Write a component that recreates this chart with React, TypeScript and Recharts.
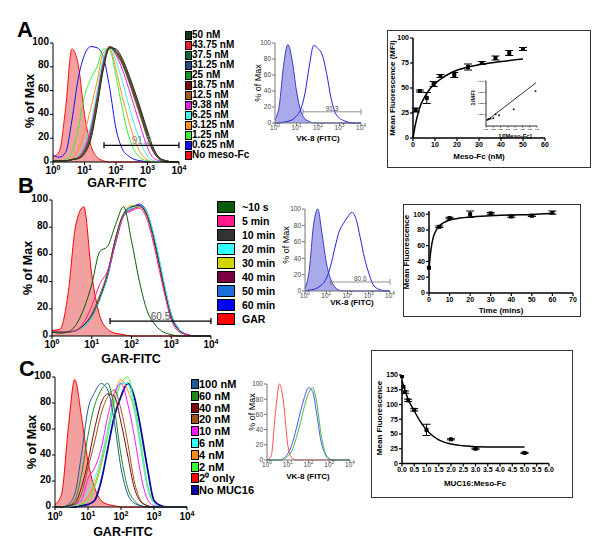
import React from "react";
import {
  ComposedChart, Line, Area, Scatter, ErrorBar, XAxis, YAxis, ReferenceLine,
} from "recharts";

const FONT = "'Liberation Sans', Arial, sans-serif";

// log10 fluorescence grid shared by the histograms
const LOG_X = [0, 0.2, 0.4, 0.6, 0.8, 1, 1.2, 1.4, 1.6, 1.8, 2, 2.2, 2.4, 2.6, 2.8, 3, 3.2, 3.4, 3.6, 3.8, 4];
const DECADES = [0, 1, 2, 3, 4];
const PCT_TICKS = [0, 20, 40, 60, 80, 100];

// ---- panel A: Meso-Fc titration ----
const A_LABELS = ["50 nM", "43.75 nM", "37.5 nM", "31.25 nM", "25 nM", "18.75 nM", "12.5 nM", "9.38 nM", "6.25 nM", "3.125 nM", "1.25 nM", "0.625 nM", "No meso-Fc"];
const A_COLORS = ["#0b3b1c", "#ee1c24", "#0e6b35", "#1f4e8c", "#1b8f2a", "#7b0f0f", "#a45a12", "#e51ee5", "#3ef0f0", "#ff8f1c", "#38f038", "#1010ff", "#ff1010"];
const A_VALUES = [
  [1, 1, 1, 2, 3, 7, 19, 46, 78, 96, 95, 87, 74, 59, 43, 26, 11, 3, 1, 0, 0],
  [1, 1, 1, 2, 3, 8, 20, 48, 79, 97, 94, 86, 73, 58, 42, 25, 10, 3, 1, 0, 0],
  [1, 1, 1, 2, 3, 8, 21, 49, 80, 97, 93, 85, 72, 57, 41, 24, 10, 3, 1, 0, 0],
  [1, 1, 1, 2, 3, 8, 22, 50, 80, 96, 93, 85, 71, 56, 40, 23, 9, 3, 1, 0, 0],
  [1, 1, 1, 2, 3, 9, 23, 51, 81, 97, 92, 84, 70, 55, 39, 22, 9, 2, 0, 0, 0],
  [1, 1, 1, 2, 3, 9, 24, 52, 82, 96, 92, 83, 69, 54, 38, 21, 8, 2, 0, 0, 0],
  [1, 1, 1, 2, 4, 10, 25, 53, 83, 97, 91, 82, 68, 52, 36, 20, 8, 2, 0, 0, 0],
  [1, 1, 1, 2, 4, 12, 28, 55, 84, 97, 90, 78, 62, 45, 28, 12, 3, 1, 0, 0, 0],
  [1, 1, 1, 2, 5, 15, 32, 60, 88, 97, 85, 68, 48, 30, 15, 5, 1, 0, 0, 0, 0],
  [1, 1, 1, 3, 10, 25, 45, 68, 92, 95, 78, 55, 35, 18, 7, 2, 0, 0, 0, 0, 0],
  [2, 1, 2, 8, 28, 55, 70, 80, 95, 94, 72, 45, 22, 9, 3, 1, 0, 0, 0, 0, 0],
  [6, 4, 8, 35, 70, 90, 97, 96, 88, 62, 28, 11, 5, 2, 1, 0, 0, 0, 0, 0, 0],
  [4, 9, 45, 95, 82, 40, 14, 4, 1, 0, 0, 0, 0, 0, 0, 0, 0, 0, 0, 0, 0],
];
const A_VK8_ISO = [4, 22, 72, 98, 78, 40, 15, 5, 2, 0, 0, 0, 0, 0, 0, 0, 0, 0, 0, 0, 0];
const A_VK8 = [0, 0, 1, 2, 4, 9, 17, 38, 72, 97, 93, 85, 62, 32, 13, 6, 3, 1, 0, 0, 0];

const A_CONC = [1.25, 3.125, 6.25, 9.38, 12.5, 18.75, 25, 31.25, 37.5, 43.75, 50];
const A_MFI = [28, 47, 40, 54, 62, 63, 71, 75, 80, 85, 89];
const A_SEM = [2, 1, 5.5, 2.5, 1.5, 2.5, 3, 1.5, 2, 2.5, 1.5];
const A_FIT_X = [0, 1, 2, 3, 5, 8, 12, 18, 25, 35, 50];
const A_FIT_Y = [0, 12.5, 22, 30, 40, 50, 58, 66, 71, 75, 79];
const A_INV_X = [0.05, 0.08, 0.1, 0.16, 0.25, 0.33, 0.45, 0.95, 1.7];
const A_INV_Y = [0.0055, 0.006, 0.0062, 0.0066, 0.007, 0.0104, 0.0095, 0.0148, 0.031];
const A_INV_FIT_X = [0.05, 1.72];
const A_INV_FIT_Y = [0.0053, 0.0385];

// ---- panel B: time course ----
const B_LABELS = ["~10 s", "5 min", "10 min", "20 min", "30 min", "40 min", "50 min", "60 min", "GAR"];
const B_COLORS = ["#0a5a0a", "#ff1a8c", "#333333", "#33ffff", "#d4d400", "#7a0040", "#1a6fd8", "#0000ff", "#ff0000"];
const B_VALUES = [
  [3, 2, 3, 8, 20, 38, 62, 66, 82, 95, 70, 40, 18, 8, 3, 1, 0, 0, 0, 0, 0],
  [3, 3, 3, 4, 10, 22, 38, 48, 68, 88, 92, 94, 85, 62, 35, 12, 3, 1, 0, 0, 0],
  [3, 3, 3, 4, 8, 15, 28, 46, 72, 90, 95, 96, 88, 66, 38, 14, 4, 1, 0, 0, 0],
  [3, 3, 3, 4, 7, 14, 27, 45, 70, 88, 94, 96, 90, 70, 42, 16, 5, 1, 0, 0, 0],
  [3, 3, 3, 4, 7, 15, 29, 47, 71, 90, 96, 94, 87, 65, 37, 13, 4, 1, 0, 0, 0],
  [3, 3, 3, 4, 8, 16, 30, 47, 72, 89, 93, 95, 88, 66, 39, 14, 4, 1, 0, 0, 0],
  [3, 3, 3, 4, 7, 14, 28, 46, 70, 89, 95, 96, 89, 68, 40, 15, 5, 1, 0, 0, 0],
  [3, 3, 3, 4, 7, 14, 27, 44, 69, 88, 94, 97, 90, 69, 41, 16, 5, 1, 0, 0, 0],
  [4, 5, 30, 82, 95, 45, 15, 5, 2, 1, 0, 0, 0, 0, 0, 0, 0, 0, 0, 0, 0],
];
const B_VK8_ISO = [3, 25, 80, 100, 70, 35, 15, 5, 1, 0, 0, 0, 0, 0, 0, 0, 0, 0, 0, 0, 0];
const B_VK8 = [0, 1, 2, 4, 8, 15, 30, 52, 72, 82, 90, 96, 88, 65, 40, 22, 8, 3, 1, 0, 0];

const B_TIME = [0, 5, 10, 20, 30, 40, 50, 60];
const B_MFI = [32, 84, 95, 100, 101, 97, 98, 102];
const B_SEM = [0, 1, 1, 4, 1, 1, 1, 2];
const B_FIT_X = [0, 0.5, 1, 2, 3, 5, 7, 10, 15, 20, 30, 40, 50, 60];
const B_FIT_Y = [30, 45, 56, 70, 77, 85, 89, 92.5, 95, 96.5, 98, 99, 99.5, 101];

// ---- panel C: MUC16 competition ----
const C_LABELS = ["100 nM", "60 nM", "40 nM", "20 nM", "10 nM", "6 nM", "4 nM", "2 nM", "2⁰ only", "No MUC16"];
const C_COLORS = ["#1f5a9a", "#1e8a1e", "#7a0a0a", "#a0521a", "#ff1aff", "#33ffff", "#ff8c1a", "#33ff33", "#ff0000", "#0a0aa0"];
const C_VALUES = [
  [0, 0, 2, 10, 40, 75, 88, 95, 90, 65, 30, 10, 3, 1, 0, 0, 0, 0, 0, 0, 0],
  [0, 0, 1, 5, 25, 55, 78, 90, 95, 75, 40, 15, 5, 1, 0, 0, 0, 0, 0, 0, 0],
  [0, 0, 1, 3, 15, 35, 60, 80, 87, 85, 65, 40, 15, 4, 1, 0, 0, 0, 0, 0, 0],
  [0, 0, 1, 2, 10, 30, 50, 72, 85, 90, 75, 50, 20, 5, 1, 0, 0, 0, 0, 0, 0],
  [0, 0, 1, 2, 5, 22, 30, 45, 70, 88, 95, 80, 55, 25, 6, 1, 0, 0, 0, 0, 0],
  [0, 0, 0, 1, 4, 12, 22, 38, 60, 82, 95, 95, 75, 45, 15, 3, 0, 0, 0, 0, 0],
  [0, 0, 0, 1, 3, 8, 18, 35, 60, 85, 98, 90, 75, 45, 15, 3, 0, 0, 0, 0, 0],
  [0, 0, 0, 1, 2, 5, 15, 32, 55, 80, 95, 100, 80, 50, 18, 3, 0, 0, 0, 0, 0],
  [2, 10, 60, 98, 70, 35, 15, 5, 2, 1, 0, 0, 0, 0, 0, 0, 0, 0, 0, 0, 0],
  [0, 0, 0, 0, 1, 2, 5, 20, 45, 70, 85, 95, 85, 60, 30, 5, 1, 0, 0, 0, 0],
];
const C_VK8_ISO = [0, 5, 60, 100, 75, 20, 3, 0, 0, 0, 0, 0, 0, 0, 0, 0, 0, 0, 0, 0, 0];
const C_VK8_A = [0, 0, 0, 0, 2, 8, 20, 40, 62, 82, 95, 90, 60, 25, 8, 1, 0, 0, 0, 0, 0];
const C_VK8_B = [0, 0, 0, 0, 1, 5, 12, 28, 48, 70, 88, 95, 75, 35, 10, 2, 0, 0, 0, 0, 0];

const C_RATIO = [0, 0.06, 0.125, 0.25, 0.5, 1, 2, 3, 5];
const C_MFI = [148, 130, 121, 107, 91, 57, 41, 25, 18];
const C_SEM = [0, 0, 2, 2, 2, 9.5, 1, 1, 1];
const C_FIT_X = [0, 0.25, 0.5, 0.75, 1, 1.25, 1.5, 2, 2.5, 3, 4, 5];
const C_FIT_Y = [140, 109, 89, 71, 57, 47, 40, 33, 30, 28.5, 28, 28];

type S = { color: string; values: number[]; fill?: string; w?: number };

function PowTick(props: any) {
  const { x, y, payload, fs, fw, color, off } = props;
  return (
    <text x={x} y={y + off} textAnchor="middle" fontSize={fs} fontWeight={fw} fill={color} fontFamily={FONT}>
      10<tspan dy={-fs * 0.4} fontSize={fs * 0.72}>{payload.value}</tspan>
    </text>
  );
}

function Hist({ plot, series, gate, small }: { plot: number[]; series: S[]; gate?: { from: number; y: number; label: string; color: string; labelColor: string }; small?: boolean }) {
  const [x1, y1, x2, y2] = plot;
  const padL = 30, padB = 22, padT = 9, padR = 12;
  const w = x2 - x1 + padL + padR;
  const h = y2 - y1 + padT + padB;
  const rows = LOG_X.map((x, i) => {
    const r: any = { x };
    series.forEach((s, j) => { r["s" + j] = s.values[i]; });
    return r;
  });
  const cap = 3 / ((y2 - y1) / 100);
  const fs = small ? 6.5 : 10;
  const fw = small ? 400 : 700;
  const tc = small ? "#444" : "#000";
  const off = small ? 3.5 : (y2 > 400 ? 9.5 : 9);
  return (
    <div style={{ position: "absolute", left: x1 - padL, top: y1 - padT }}>
      <ComposedChart width={w} height={h} data={rows} margin={{ top: padT, right: padR, bottom: 0, left: 0 }}>
        <XAxis dataKey="x" type="number" domain={[0, 4]} ticks={DECADES} interval={0} height={padB}
          tickSize={3} tickMargin={0} axisLine={{ stroke: small ? "#777" : "#000" }} tickLine={{ stroke: small ? "#777" : "#000" }}
          tick={<PowTick fs={fs} fw={fw} color={tc} off={off} />} />
        <XAxis xAxisId="top" orientation="top" dataKey="x" type="number" domain={[0, 4]} height={0} tick={false} tickLine={false} axisLine={{ stroke: "#aaa" }} />
        <YAxis type="number" domain={[0, 100]} ticks={PCT_TICKS} interval={0} width={padL} tickSize={3} tickMargin={1}
          axisLine={{ stroke: small ? "#777" : "#000" }} tickLine={{ stroke: small ? "#777" : "#000" }}
          tick={{ fontSize: fs, fontWeight: fw, fill: tc, fontFamily: FONT, dy: small ? 0 : -2 }} />
        <YAxis yAxisId="right" orientation="right" type="number" domain={[0, 100]} width={0} tick={false} tickLine={false} axisLine={{ stroke: "#aaa" }} />
        {series.map((s, j) =>
          s.fill ? (
            <Area key={j} type="monotone" dataKey={"s" + j} stroke={s.color} strokeWidth={s.w || 1} fill={s.fill} fillOpacity={1} dot={false} activeDot={false} isAnimationActive={false} />
          ) : (
            <Line key={j} type="monotone" dataKey={"s" + j} stroke={s.color} strokeWidth={s.w || 1} dot={false} activeDot={false} isAnimationActive={false} />
          )
        )}
        {gate && (
          <ReferenceLine segment={[{ x: gate.from, y: gate.y }, { x: 4, y: gate.y }]} stroke={gate.color} strokeWidth={small ? 0.8 : 1.3}
            label={{ value: gate.label, position: "top", offset: 1, fontSize: small ? 6.5 : 10, fill: gate.labelColor, fontFamily: FONT }} />
        )}
        {gate && <ReferenceLine segment={[{ x: gate.from, y: gate.y - cap }, { x: gate.from, y: gate.y + cap }]} stroke={gate.color} strokeWidth={small ? 0.8 : 1.3} />}
        {gate && <ReferenceLine segment={[{ x: 4, y: gate.y - cap }, { x: 4, y: gate.y + cap }]} stroke={gate.color} strokeWidth={small ? 0.8 : 1.3} />}
      </ComposedChart>
    </div>
  );
}

const Square = (size: number) => (p: any) => (
  <rect x={p.cx - size / 2} y={p.cy - size / 2} width={size} height={size} fill="#000" />
);

function Binding({ plot, xDomain, xTicks, yDomain, yTicks, xFmt, yFmt, pts, fit, fs = 7, lw = 1.5, mark = 4, tick = 3 }: any) {
  const [x1, y1, x2, y2] = plot;
  const padL = 26, padB = 14, padT = 4, padR = 8;
  return (
    <div style={{ position: "absolute", left: x1 - padL, top: y1 - padT }}>
      <ComposedChart width={x2 - x1 + padL + padR} height={y2 - y1 + padT + padB} data={fit}
        margin={{ top: padT, right: padR, bottom: 0, left: 0 }}>
        <XAxis dataKey="x" type="number" domain={xDomain} ticks={xTicks} interval={0} height={padB} tickSize={tick} tickMargin={1}
          tickFormatter={xFmt} axisLine={{ stroke: "#000", strokeWidth: lw }} tickLine={{ stroke: "#000", strokeWidth: lw * 0.8 }}
          tick={{ fontSize: fs, fontWeight: 700, fill: "#000", fontFamily: FONT }} />
        <YAxis type="number" domain={yDomain} ticks={yTicks} interval={0} width={padL} tickSize={tick} tickMargin={1}
          tickFormatter={yFmt} axisLine={{ stroke: "#000", strokeWidth: lw }} tickLine={{ stroke: "#000", strokeWidth: lw * 0.8 }}
          tick={{ fontSize: fs, fontWeight: 700, fill: "#000", fontFamily: FONT }} allowDataOverflow />
        <Line type="monotone" dataKey="y" stroke="#000" strokeWidth={lw} dot={false} activeDot={false} isAnimationActive={false} />
        {pts && (
          <Scatter data={pts} dataKey="y" shape={Square(mark)} isAnimationActive={false}>
            <ErrorBar dataKey="e" direction="y" width={mark} stroke="#000" strokeWidth={1} />
          </Scatter>
        )}
      </ComposedChart>
    </div>
  );
}

function Txt({ x, y, size, bold = true, rot = false, color = "#000", children }: any) {
  return (
    <div style={{
      position: "absolute", left: x, top: y, transform: `translate(-50%,-50%)${rot ? " rotate(-90deg)" : ""}`,
      fontSize: size, fontWeight: bold ? 700 : 400, whiteSpace: "nowrap", fontFamily: FONT, color, lineHeight: 1,
    }}>{children}</div>
  );
}

function Legend({ x, y, pitch, bw, bh, fs, tx, labels, colors }: any) {
  return (
    <>
      {labels.map((l: string, i: number) => (
        <React.Fragment key={l}>
          <div style={{ position: "absolute", left: x, top: y + i * pitch - bh / 2, width: bw - 2, height: bh - 2, background: colors[i], border: "1px solid #000" }} />
          <div style={{ position: "absolute", left: tx, top: y + i * pitch, transform: "translateY(-50%)", fontSize: fs, fontWeight: 700, fontFamily: FONT, lineHeight: 1, whiteSpace: "nowrap" }}>{l}</div>
        </React.Fragment>
      ))}
    </>
  );
}

const toPts = (xs: number[], ys: number[], es?: number[]) => xs.map((x, i) => ({ x, y: ys[i], e: es ? es[i] : 0 }));
const toFit = (xs: number[], ys: number[]) => xs.map((x, i) => ({ x, y: ys[i] }));

function withFill(labels: string[], colors: string[], values: number[][], fillIdx: number): S[] {
  // draw the filled control first, then the remaining curves bottom-up
  const out: S[] = [{ color: colors[fillIdx], values: values[fillIdx], fill: "#f3a0a0" }];
  for (let i = labels.length - 1; i >= 0; i--) if (i !== fillIdx) out.push({ color: colors[i], values: values[i] });
  return out;
}

export default function App() {
  const aSeries = withFill(A_LABELS, A_COLORS, A_VALUES, 12);
  const bSeries = withFill(B_LABELS, B_COLORS, B_VALUES, 8);
  const cSeries = withFill(C_LABELS, C_COLORS, C_VALUES, 8).map((s) =>
    s.color === "#0a0aa0" ? { ...s, w: 1.8 } : s);

  return (
    <div style={{ position: "absolute", left: 0, top: 0, width: 600, height: 546, background: "#fff", overflow: "hidden", fontFamily: FONT }}>
      {/* panel letters */}
      <Txt x={25} y={30} size={22}>A</Txt>
      <Txt x={26} y={186} size={22}>B</Txt>
      <Txt x={27} y={369} size={22}>C</Txt>

      {/* ---- A ---- */}
      <Hist plot={[53, 43, 179, 162]} series={aSeries}
        gate={{ from: 1.62, y: 14, label: "91.3", color: "#000", labelColor: "#888" }} />
      <Txt x={30} y={101} size={12.5} rot>% of Max</Txt>
      <Txt x={117} y={183} size={12.5}>GAR-FITC</Txt>
      <Legend x={185} y={35} pitch={10} bw={7} bh={9} fs={10} tx={192} labels={A_LABELS} colors={A_COLORS} />

      <Hist small plot={[275, 43, 361, 123]}
        series={[{ color: "#3a3ac8", values: A_VK8_ISO, fill: "#aaaaea" }, { color: "#2020e8", values: A_VK8 }]}
        gate={{ from: 1.3, y: 14, label: "91.3", color: "#777", labelColor: "#444" }} />
      <Txt x={258} y={83} size={9} bold={false} rot>% of Max</Txt>
      <Txt x={318} y={139} size={8}>VK-8 (FITC)</Txt>

      <div style={{ position: "absolute", left: 387, top: 30, width: 202, height: 136, border: "1px solid #333" }} />
      <Binding plot={[413, 38, 545, 138]} xDomain={[0, 60]} xTicks={[0, 10, 20, 30, 40, 50, 60]}
        yDomain={[0, 100]} yTicks={[0, 25, 50, 75, 100]} fit={toFit(A_FIT_X, A_FIT_Y)} pts={toPts(A_CONC, A_MFI, A_SEM)} />
      <Txt x={393} y={88} size={8} rot>Mean Fluorescence (MFI)</Txt>
      <Txt x={479} y={157} size={8}>Meso-Fc (nM)</Txt>
      <Binding plot={[486, 81, 537, 126]} xDomain={[0, 1.75]} xTicks={[0, 0.25, 0.5, 0.75, 1, 1.25, 1.5, 1.75]}
        yDomain={[0, 0.04]} yTicks={[0.01, 0.02, 0.03, 0.04]} xFmt={(v: number) => v.toFixed(2)} yFmt={(v: number) => v.toFixed(3)}
        fs={2.1} lw={0.8} mark={1.6} tick={1.5}
        fit={toFit(A_INV_FIT_X, A_INV_FIT_Y)} pts={toPts(A_INV_X, A_INV_Y)} />
      <Txt x={473} y={98} size={6} rot>1/MFI</Txt>
      <Txt x={515} y={136} size={6}>1/[Meso-Fc]</Txt>

      {/* ---- B ---- */}
      <Hist plot={[52, 200, 211, 336]} series={bSeries}
        gate={{ from: 1.46, y: 11, label: "60.5", color: "#000", labelColor: "#555" }} />
      <Txt x={28} y={268} size={12.5} rot>% of Max</Txt>
      <Txt x={131} y={359} size={12.5}>GAR-FITC</Txt>
      <Legend x={217} y={207} pitch={14} bw={18} bh={12} fs={10.5} tx={242} labels={B_LABELS} colors={B_COLORS} />

      <Hist small plot={[305, 209, 390, 291]}
        series={[{ color: "#3a3ac8", values: B_VK8_ISO, fill: "#aaaaea" }, { color: "#2020e8", values: B_VK8 }]}
        gate={{ from: 1.2, y: 11, label: "80.6", color: "#777", labelColor: "#555" }} />
      <Txt x={286} y={245} size={9} bold={false} rot>% of Max</Txt>
      <Txt x={352} y={303} size={8}>VK-8 (FITC)</Txt>

      <div style={{ position: "absolute", left: 403, top: 204, width: 176, height: 111, border: "1px solid #333" }} />
      <Binding plot={[429, 211, 573, 293]} xDomain={[0, 70]} xTicks={[0, 10, 20, 30, 40, 50, 60, 70]}
        yDomain={[0, 104]} yTicks={[0, 20, 40, 60, 80, 100]} fit={toFit(B_FIT_X, B_FIT_Y)} pts={toPts(B_TIME, B_MFI, B_SEM)} />
      <Txt x={407} y={252} size={8} rot>Mean Fluorescence</Txt>
      <Txt x={501} y={311} size={8}>Time (mins)</Txt>

      {/* ---- C ---- */}
      <Hist plot={[55, 377, 187, 507]} series={cSeries} />
      <Txt x={32} y={442} size={12.5} rot>% of Max</Txt>
      <Txt x={123} y={532} size={12.5}>GAR-FITC</Txt>
      <Legend x={191} y={384} pitch={11.8} bw={8} bh={10} fs={11} tx={199} labels={C_LABELS} colors={C_COLORS} />

      <Hist small plot={[267, 384, 350, 460]}
        series={[{ color: "#ff5050", values: C_VK8_ISO }, { color: "#5050ff", values: C_VK8_A }, { color: "#40c040", values: C_VK8_B }]} />
      <Txt x={252} y={412} size={9} bold={false} rot>% of Max</Txt>
      <Txt x={308} y={477} size={8}>VK-8 (FITC)</Txt>

      <div style={{ position: "absolute", left: 371, top: 350, width: 200, height: 146, border: "1px solid #333" }} />
      <Binding plot={[402, 374.5, 549, 463]} xDomain={[0, 6]} xTicks={[0, 0.5, 1, 1.5, 2, 2.5, 3, 3.5, 4, 4.5, 5, 5.5, 6]}
        yDomain={[0, 150]} yTicks={[0, 25, 50, 75, 100, 125, 150]} xFmt={(v: number) => v.toFixed(1)}
        fit={toFit(C_FIT_X, C_FIT_Y)} pts={toPts(C_RATIO, C_MFI, C_SEM)} />
      <Txt x={380} y={418} size={8} rot>Mean Fluorescence</Txt>
      <Txt x={475} y={484} size={8}>MUC16:Meso-Fc</Txt>
    </div>
  );
}
